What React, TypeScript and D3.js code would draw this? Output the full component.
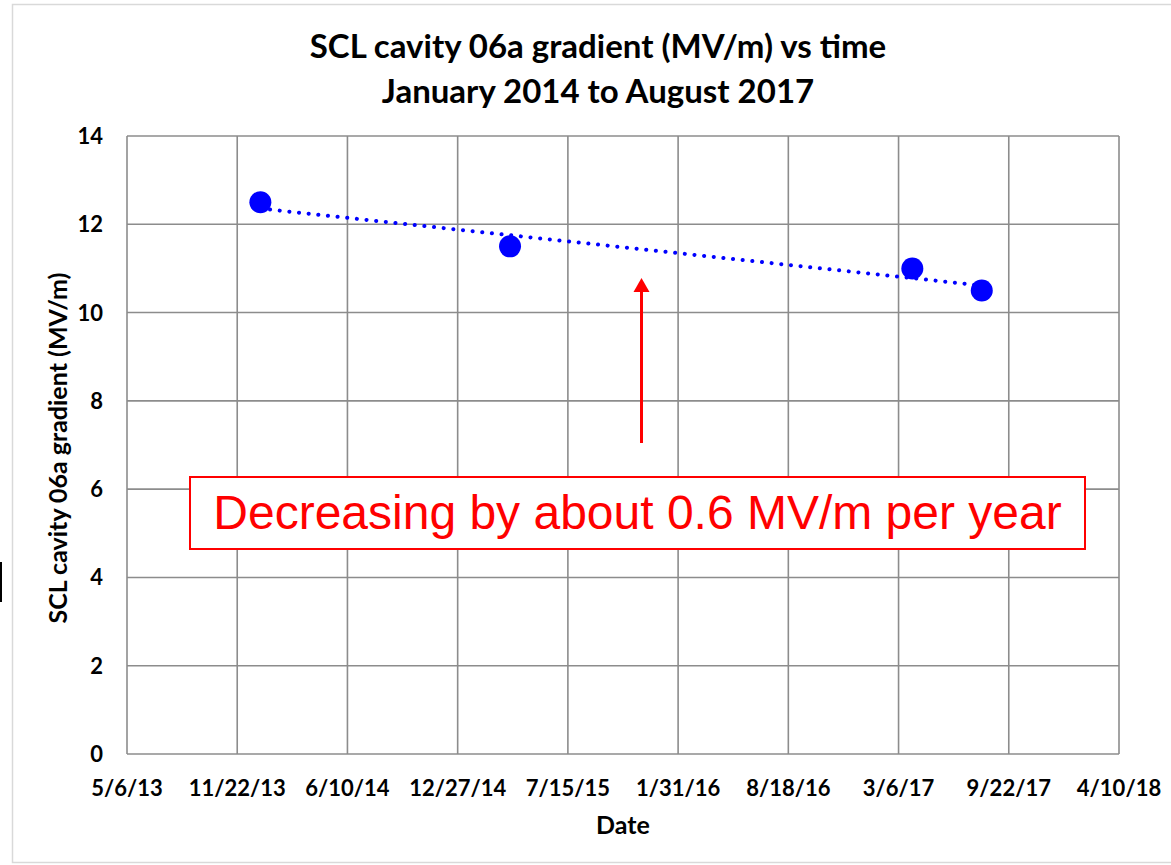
import React from "react";
import * as d3 from "d3";

const tickLabels = ["5/6/13", "11/22/13", "6/10/14", "12/27/14", "7/15/15", "1/31/16", "8/18/16", "3/6/17", "9/22/17", "4/10/18"];
const yTicks = [0, 2, 4, 6, 8, 10, 12, 14];
const measureDates = ["2014-01-03", "2015-04-01", "2017-03-31", "2017-08-04"];
const gradientValues = [12.5, 11.5, 11.0, 10.5];

const titleLines = ["SCL cavity 06a gradient (MV/m) vs time", "January 2014 to August 2017"];
const yLabel = "SCL cavity 06a gradient (MV/m)";
const xLabel = "Date";
const note = "Decreasing by about 0.6 MV/m per year";

const W = 1171, H = 865;
const M = { left: 127, right: 1119, top: 136, bottom: 754 };
const labelFont = "Lato, 'Open Sans', sans-serif";

export default function App() {
  const parseTick = d3.timeParse("%m/%d/%y");
  const parseIso = d3.timeParse("%Y-%m-%d");
  const tickDates = tickLabels.map((t) => parseTick(t) as Date);
  const x = d3.scaleTime().domain([tickDates[0], tickDates[tickDates.length - 1]]).range([M.left, M.right]);
  const y = d3.scaleLinear().domain([0, 14]).range([M.bottom, M.top]);

  const pts = measureDates.map((d, i) => ({ date: parseIso(d) as Date, v: gradientValues[i] }));
  // linear regression trendline
  const xs = pts.map((p) => p.date.getTime());
  const ys = pts.map((p) => p.v);
  const mx = d3.mean(xs) as number;
  const my = d3.mean(ys) as number;
  let sxy = 0, sxx = 0;
  xs.forEach((xv, i) => { sxy += (xv - mx) * (ys[i] - my); sxx += (xv - mx) * (xv - mx); });
  const slope = sxy / sxx;
  const fit = (t: number) => my + slope * (t - mx);
  const t0 = xs[0], t1 = xs[xs.length - 1];
  const trend = d3.line<[number, number]>()
    .x((d) => x(new Date(d[0])))
    .y((d) => y(d[1]))([[t0, fit(t0)], [t1, fit(t1)]]);

  return (
    <svg width={W} height={H} style={{ display: "block", position: "absolute", left: 0, top: 0 }}>
      <rect x={0} y={0} width={W} height={H} fill="#fff" />
      <rect x={12.5} y={4.5} width={W} height={858} fill="none" stroke="#d9d9d9" strokeWidth={1.5} />
      <rect x={0} y={562} width={2} height={40} fill="#000" />
      {/* title */}
      {titleLines.map((t, i) => (
        <text key={i} x={598} y={58 + i * 45} textAnchor="middle" fontFamily={labelFont} fontWeight="bold" fontSize={33} fill="#000">{t}</text>
      ))}
      {/* grid */}
      {yTicks.map((t) => (
        <line key={"h" + t} x1={M.left} x2={M.right} y1={y(t)} y2={y(t)} stroke="#8c8c8c" strokeWidth={1.6} />
      ))}
      {tickDates.map((d, i) => (
        <line key={"v" + i} x1={x(d)} x2={x(d)} y1={M.top} y2={M.bottom} stroke="#8c8c8c" strokeWidth={1.6} />
      ))}
      {/* y tick labels */}
      {yTicks.map((t) => (
        <text key={"yl" + t} x={103} y={y(t) + 8} textAnchor="end" fontFamily={labelFont} fontWeight="bold" fontSize={22} fill="#000">{t}</text>
      ))}
      {/* x tick labels */}
      {tickDates.map((d, i) => (
        <text key={"xl" + i} x={x(d)} y={796} textAnchor="middle" fontFamily={labelFont} fontWeight="bold" fontSize={22} fill="#000">{tickLabels[i]}</text>
      ))}
      <text x={623} y={834} textAnchor="middle" fontFamily={labelFont} fontWeight="bold" fontSize={25} fill="#000">{xLabel}</text>
      <text transform={`translate(67,${448}) rotate(-90)`} textAnchor="middle" fontFamily={labelFont} fontWeight="bold" fontSize={25} fill="#000">{yLabel}</text>
      {/* trendline */}
      <path d={trend ?? ""} fill="none" stroke="#0000ff" strokeWidth={4} strokeLinecap="round" strokeDasharray="0.1 9.6" />
      {/* points */}
      {pts.map((p, i) => (
        <circle key={"p" + i} cx={x(p.date)} cy={y(p.v)} r={11} fill="#0000ff" />
      ))}
      {/* annotation */}
      <line x1={641.5} x2={641.5} y1={443} y2={290} stroke="#ff0000" strokeWidth={3} />
      <path d="M641.5,278 L633.5,292 L649.5,292 Z" fill="#ff0000" />
      <rect x={190} y={477} width={895} height={72} fill="#fff" stroke="#ff0000" strokeWidth={2} />
      <text x={637.5} y={529} textAnchor="middle" fontFamily="'Liberation Sans', Arial, sans-serif" fontSize={48} fill="#ff0000">{note}</text>
    </svg>
  );
}
